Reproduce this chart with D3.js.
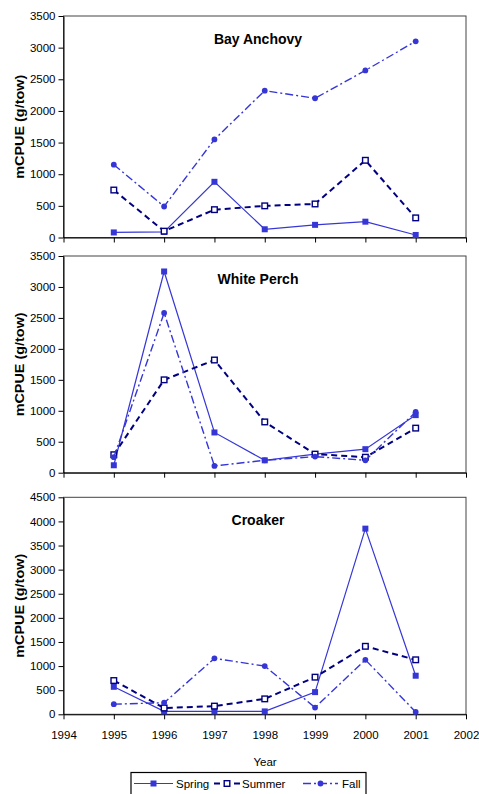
<!DOCTYPE html>
<html>
<head>
<meta charset="utf-8">
<script src="https://cdn.jsdelivr.net/npm/d3@7"></script>
<style>
  html, body { margin: 0; padding: 0; background: #fff; }
  svg { display: block; }
  text { font-family: "Liberation Sans", Arial, sans-serif; fill: #000; }
</style>
</head>
<body>
<svg id="chart" width="479" height="794"></svg>
<script>
// ---- data ----
const years = [1995, 1996, 1997, 1998, 1999, 2000, 2001];
const xTickLabels = [1994, 1995, 1996, 1997, 1998, 1999, 2000, 2001, 2002];
const panelTitles = ["Bay Anchovy", "White Perch", "Croaker"];
const panelYMax = [3500, 3500, 4500];
const seriesNames = ["Spring", "Summer", "Fall"];

const anchovySpring = [80, 90, 880, 130, 200, 250, 40];
const anchovySummer = [750, 100, 440, 500, 530, 1220, 310];
const anchovyFall   = [1150, 490, 1550, 2320, 2200, 2640, 3100];

const perchSpring = [120, 3250, 650, 200, 300, 380, 930];
const perchSummer = [290, 1500, 1820, 820, 300, 250, 720];
const perchFall   = [250, 2580, 110, 200, 260, 200, 980];

const croakerSpring = [570, 60, 60, 60, 460, 3850, 800];
const croakerSummer = [700, 130, 170, 320, 770, 1410, 1130];
const croakerFall   = [210, 240, 1160, 1000, 140, 1130, 50];

const panelData = [
  [anchovySpring, anchovySummer, anchovyFall],
  [perchSpring, perchSummer, perchFall],
  [croakerSpring, croakerSummer, croakerFall]
];

// ---- layout ----
const svg = d3.select("#chart");
const xLeft = 63.5, xRight = 466;
const panelBox = [
  { top: 16, bottom: 237.5 },
  { top: 256, bottom: 472.7 },
  { top: 497.3, bottom: 714.3 }
];

const x = d3.scaleLinear().domain([1994, 2002]).range([xLeft, xRight]);

const styles = [
  { color: "#3636d6", width: 1.2, dash: null, marker: "filledSquare" },
  { color: "#000080", width: 2, dash: "6,4", marker: "openSquare" },
  { color: "#3636d6", width: 1.4, dash: "8,3,2,3", marker: "dot" }
];

panelBox.forEach((pb, pi) => {
  const g = svg.append("g");
  const y = d3.scaleLinear().domain([0, panelYMax[pi]]).range([pb.bottom, pb.top]);

  g.append("rect")
    .attr("x", xLeft).attr("y", pb.top)
    .attr("width", xRight - xLeft).attr("height", pb.bottom - pb.top)
    .attr("fill", "none").attr("stroke", "#444").attr("stroke-width", 1);

  const yAxis = d3.axisLeft(y).tickValues(d3.range(0, panelYMax[pi] + 1, 500))
    .tickSize(5).tickSizeOuter(0).tickPadding(3).tickFormat(d3.format("d"));
  const ya = g.append("g").attr("transform", `translate(${xLeft},0)`).call(yAxis);
  ya.selectAll("text").style("font-size", "11.5px").style("font-family", "Liberation Sans, Arial, sans-serif");
  ya.select(".domain").attr("stroke", "#000");

  const xAxis = d3.axisBottom(x).tickValues(xTickLabels)
    .tickSize(5).tickSizeOuter(0).tickPadding(12).tickFormat(pi === 2 ? d3.format("d") : () => "");
  const xa = g.append("g").attr("transform", `translate(0,${pb.bottom})`).call(xAxis);
  xa.selectAll("text").style("font-size", "11.5px").style("font-family", "Liberation Sans, Arial, sans-serif");
  xa.select(".domain").attr("stroke", "#000");

  g.append("text")
    .attr("x", 258).attr("y", pb.top + 28)
    .attr("text-anchor", "middle")
    .style("font-size", "14px").style("font-weight", "bold")
    .text(panelTitles[pi]);

  const cy = (pb.top + pb.bottom) / 2;
  g.append("text")
    .attr("transform", `translate(24,${cy}) rotate(-90)`)
    .attr("text-anchor", "middle")
    .style("font-size", "12px").style("font-weight", "bold")
    .attr("textLength", 104).attr("lengthAdjust", "spacingAndGlyphs")
    .text("mCPUE  (g/tow)");

  panelData[pi].forEach((vals, si) => {
    const st = styles[si];
    const line = d3.line().x((d, i) => x(years[i])).y(d => y(d));
    g.append("path")
      .datum(vals)
      .attr("d", line)
      .attr("fill", "none")
      .attr("stroke", st.color)
      .attr("stroke-width", st.width)
      .attr("stroke-dasharray", st.dash);
    drawMarkers(g, vals.map((v, i) => [x(years[i]), y(v)]), st);
  });
});

function drawMarkers(g, pts, st) {
  if (st.marker === "filledSquare") {
    g.selectAll(null).data(pts).enter().append("rect")
      .attr("x", d => d[0] - 3).attr("y", d => d[1] - 3)
      .attr("width", 6).attr("height", 6)
      .attr("fill", st.color);
  } else if (st.marker === "openSquare") {
    g.selectAll(null).data(pts).enter().append("rect")
      .attr("x", d => d[0] - 2.8).attr("y", d => d[1] - 2.8)
      .attr("width", 5.6).attr("height", 5.6)
      .attr("fill", "#fff").attr("stroke", st.color).attr("stroke-width", 1.4);
  } else {
    g.selectAll(null).data(pts).enter().append("circle")
      .attr("cx", d => d[0]).attr("cy", d => d[1]).attr("r", 2.9)
      .attr("fill", st.color);
  }
}

svg.append("text")
  .attr("x", 265).attr("y", 766)
  .attr("text-anchor", "middle")
  .style("font-size", "11.5px")
  .text("Year");

const leg = svg.append("g");
leg.append("rect")
  .attr("x", 131).attr("y", 772.5)
  .attr("width", 235).attr("height", 24)
  .attr("fill", "#fff").attr("stroke", "#000").attr("stroke-width", 1.2);

const legendItems = [
  { x1: 134, x2: 173, tx: 176 },
  { x1: 214, x2: 240, tx: 242 },
  { x1: 303, x2: 338, tx: 342 }
];
const legY = 783.5;
seriesNames.forEach((name, i) => {
  const st = styles[i];
  const it = legendItems[i];
  leg.append("line")
    .attr("x1", it.x1).attr("x2", it.x2)
    .attr("y1", legY).attr("y2", legY)
    .attr("stroke", st.color).attr("stroke-width", st.width)
    .attr("stroke-dasharray", st.dash);
  drawMarkers(leg, [[(it.x1 + it.x2) / 2, legY]], st);
  leg.append("text")
    .attr("x", it.tx).attr("y", legY + 4)
    .style("font-size", "11.5px")
    .text(name);
});
</script>
</body>
</html>
